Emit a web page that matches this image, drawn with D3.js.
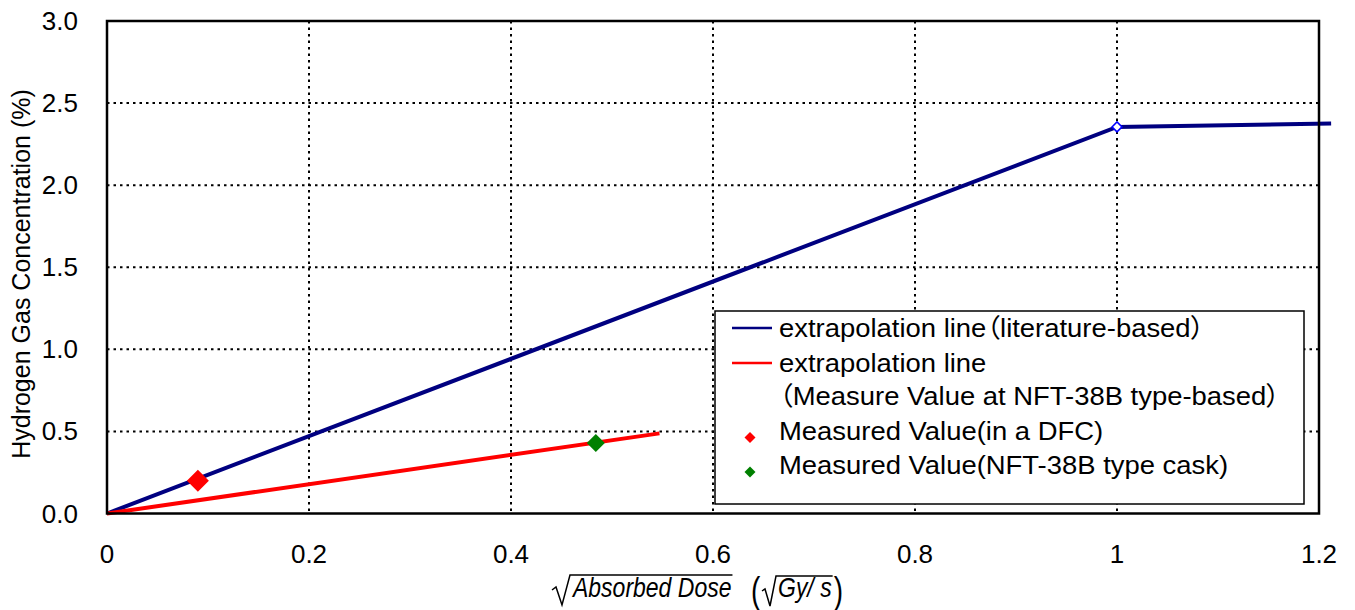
<!DOCTYPE html>
<html>
<head>
<meta charset="utf-8">
<script src="https://cdn.jsdelivr.net/npm/d3@7"></script>
<style>
  body { margin: 0; background: #fff; }
  svg { display: block; font-family: "Liberation Sans", Arial, sans-serif; }
  .tick-label { font-size: 26px; fill: #000; }
  .grid { stroke: #000; stroke-width: 2; stroke-dasharray: 2.5 4; fill: none; }
  .legend-text { font-size: 26px; fill: #000; }
  .cjk { font-family: "Noto Sans CJK JP", sans-serif; font-feature-settings: "palt" 1; }
</style>
</head>
<body>
<svg id="chart" width="1355" height="610"></svg>
<script>
const WIDTH = 1355;
const HEIGHT = 610;

const X_TICKS = [0, 0.2, 0.4, 0.6, 0.8, 1, 1.2];
const X_TICK_LABELS = ["0", "0.2", "0.4", "0.6", "0.8", "1", "1.2"];
const Y_TICKS = [0, 0.5, 1, 1.5, 2, 2.5, 3];
const Y_TICK_LABELS = ["0.0", "0.5", "1.0", "1.5", "2.0", "2.5", "3.0"];

// extrapolation line (literature-based)
const LIT_X = [0, 1, 1.212];
const LIT_Y = [0, 2.355, 2.375];
// extrapolation line (NFT-38B measured)
const NFT_X = [0, 0.547];
const NFT_Y = [0, 0.488];
// measured points
const DFC_POINT = [0.09, 0.2];
const NFT_POINT = [0.484, 0.43];
const LIT_MARKER = [1, 2.355];

// legend rows, split so the full-width brackets use proportional widths
const LEGEND_ROWS = [
  ["extrapolation line", "（", "literature-based", "）"],
  ["extrapolation line"],
  ["（", "Measure Value at NFT-38B type-based", "）"],
  ["Measured Value(in a DFC)"],
  ["Measured Value(NFT-38B type cask)"]
];

const margin = { left: 107, top: 21, right: 1319, bottom: 513.5 };

const svg = d3.select("#chart");
const x = d3.scaleLinear().domain([0, 1.2]).range([margin.left, margin.right]);
const y = d3.scaleLinear().domain([0, 3]).range([margin.bottom, margin.top]);

// gridlines
const grid = svg.append("g");
grid.selectAll("line.gx")
  .data(X_TICKS.slice(1, -1))
  .join("line")
  .attr("class", "grid")
  .attr("x1", (d) => x(d)).attr("x2", (d) => x(d))
  .attr("y1", margin.top).attr("y2", margin.bottom);
grid.selectAll("line.gy")
  .data(Y_TICKS.slice(1, -1))
  .join("line")
  .attr("class", "grid")
  .attr("y1", (d) => y(d)).attr("y2", (d) => y(d))
  .attr("x1", margin.left).attr("x2", margin.right);

// legend box (covers gridlines)
const legend = svg.append("g").attr("transform", "translate(715,311)");
legend.append("rect")
  .attr("width", 589).attr("height", 193)
  .attr("fill", "#fff").attr("stroke", "#000").attr("stroke-width", 1.5);

const baseY = [26, 60.5, 94, 128.5, 163];
legend.selectAll("g.row")
  .data(LEGEND_ROWS)
  .join("g")
  .attr("class", "row")
  .attr("transform", (d, i) => `translate(64,${baseY[i]}) scale(1.055,1)`)
  .append("text")
  .attr("class", "legend-text")
  .selectAll("tspan")
  .data((d) => d)
  .join("tspan")
  .attr("class", (d) => (d === "（" || d === "）") ? "cjk" : null)
  .text((d) => d);

legend.append("line").attr("x1", 17).attr("x2", 57).attr("y1", 17).attr("y2", 17)
  .attr("stroke", "#000080").attr("stroke-width", 2.5);
legend.append("line").attr("x1", 17).attr("x2", 57).attr("y1", 52).attr("y2", 52)
  .attr("stroke", "#ff0000").attr("stroke-width", 2.5);

const diamond = (s) => `M0,${-s}L${s},0L0,${s}L${-s},0Z`;
legend.append("path").attr("d", diamond(5.5)).attr("fill", "#ff0000")
  .attr("transform", `translate(35,${baseY[3] - 2})`);
legend.append("path").attr("d", diamond(5.5)).attr("fill", "#008000")
  .attr("transform", `translate(35,${baseY[4] - 2})`);

// data lines
const line = d3.line().x((d) => x(d[0])).y((d) => y(d[1]));
svg.append("path")
  .datum(LIT_X.map((v, i) => [v, LIT_Y[i]]))
  .attr("d", line)
  .attr("fill", "none").attr("stroke", "#000080").attr("stroke-width", 4);
svg.append("path")
  .datum(NFT_X.map((v, i) => [v, NFT_Y[i]]))
  .attr("d", line)
  .attr("fill", "none").attr("stroke", "#ff0000").attr("stroke-width", 4);

svg.append("path").attr("d", diamond(5))
  .attr("transform", `translate(${x(LIT_MARKER[0])},${y(LIT_MARKER[1])})`)
  .attr("fill", "#fff").attr("stroke", "#0000ff").attr("stroke-width", 1.5);
svg.append("path").attr("d", diamond(11))
  .attr("transform", `translate(${x(DFC_POINT[0])},${y(DFC_POINT[1])})`)
  .attr("fill", "#ff0000");
svg.append("path").attr("d", diamond(9))
  .attr("transform", `translate(${x(NFT_POINT[0])},${y(NFT_POINT[1])})`)
  .attr("fill", "#008000");

// frame
svg.append("rect")
  .attr("x", margin.left).attr("y", margin.top)
  .attr("width", margin.right - margin.left).attr("height", margin.bottom - margin.top)
  .attr("fill", "none").attr("stroke", "#000").attr("stroke-width", 2.5);

// tick labels
svg.append("g").selectAll("text")
  .data(X_TICKS)
  .join("text")
  .attr("class", "tick-label")
  .attr("x", (d) => x(d))
  .attr("y", 563)
  .attr("text-anchor", "middle")
  .text((d, i) => X_TICK_LABELS[i]);
svg.append("g").selectAll("text")
  .data(Y_TICKS)
  .join("text")
  .attr("class", "tick-label")
  .attr("x", 78)
  .attr("y", (d) => y(d) + 9)
  .attr("text-anchor", "end")
  .text((d, i) => Y_TICK_LABELS[i]);

// y axis title
svg.append("text")
  .attr("transform", "translate(30,274) rotate(-90)")
  .attr("text-anchor", "middle")
  .attr("font-size", 25)
  .text("Hydrogen Gas Concentration (%)");

// x axis title: sqrt(Absorbed Dose) (sqrt(Gy/s))
const xt = svg.append("g");
const t1 = xt.append("text")
  .attr("transform", "translate(573,597) scale(1,1.2)")
  .attr("font-size", 23).attr("font-style", "italic")
  .text("Absorbed Dose");
const w1 = t1.node().getComputedTextLength();
xt.append("path")
  .attr("d", `M552,590 L556,587 L562,605 L570,575 L${573 + w1 + 1},575`)
  .attr("fill", "none").attr("stroke", "#000").attr("stroke-width", 1.5);

xt.append("text")
  .attr("transform", "translate(751,603) scale(1,1.3)")
  .attr("font-size", 28).text("(");
const gx = 778;
const t2 = xt.append("text")
  .attr("transform", `translate(${gx},597) scale(1,1.2)`)
  .attr("font-size", 23).attr("font-style", "italic")
  .text("Gy/ s");
const w2 = t2.node().getComputedTextLength();
xt.append("path")
  .attr("d", `M${gx - 16},591 L${gx - 13},589 L${gx - 8},606 L${gx - 2},576 L${gx + w2 + 1},576`)
  .attr("fill", "none").attr("stroke", "#000").attr("stroke-width", 1.5);
xt.append("text")
  .attr("transform", `translate(${gx + w2 + 2},603) scale(1,1.3)`)
  .attr("font-size", 28).text(")");
</script>
</body>
</html>
